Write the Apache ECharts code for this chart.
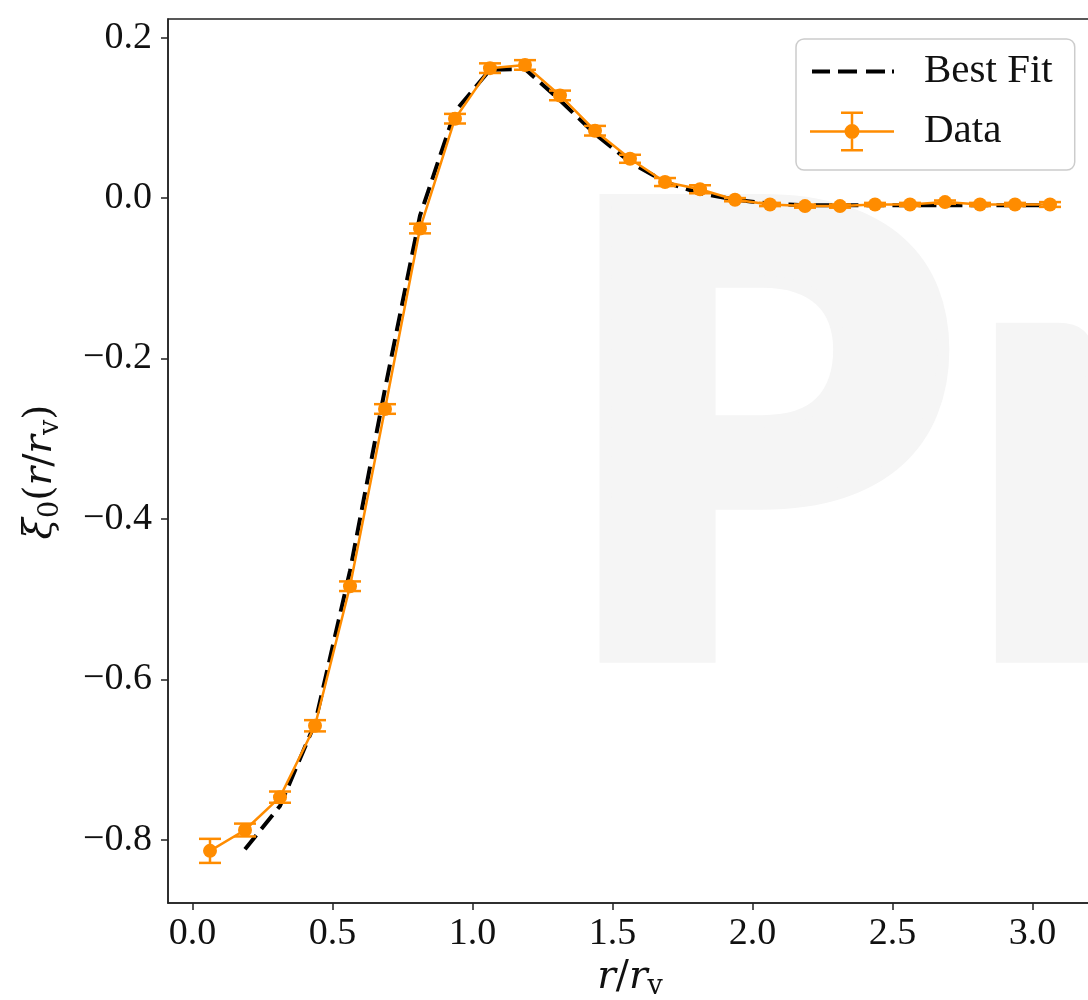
<!DOCTYPE html>
<html><head><meta charset="utf-8">
<script src="https://cdn.jsdelivr.net/npm/echarts@6/dist/echarts.min.js"></script>
<style>html,body{margin:0;padding:0;background:#fff}#chart{width:1088px;height:1000px}</style>
</head><body><div id="chart"></div>
<script>
// ---- data ----
const xData = [0.0625, 0.1875, 0.3125, 0.4375, 0.5625, 0.6875, 0.8125, 0.9375, 1.0625, 1.1875, 1.3125, 1.4375, 1.5625, 1.6875, 1.8125, 1.9375, 2.0625, 2.1875, 2.3125, 2.4375, 2.5625, 2.6875, 2.8125, 2.9375, 3.0625];
const yData = [-0.814, -0.788, -0.747, -0.658, -0.484, -0.263, -0.038, 0.099, 0.162, 0.166, 0.128, 0.084, 0.049, 0.020, 0.011, -0.002, -0.008, -0.010, -0.010, -0.008, -0.008, -0.005, -0.008, -0.008, -0.008];
const yErr = [0.015, 0.008, 0.007, 0.007, 0.006, 0.006, 0.006, 0.006, 0.006, 0.006, 0.006, 0.006, 0.005, 0.005, 0.005, 0.002, 0.002, 0.002, 0.002, 0.002, 0.002, 0.002, 0.002, 0.002, 0.003];
const fitX = [0.1875, 0.3125, 0.4375, 0.5625, 0.6875, 0.8125, 0.9375, 1.0625, 1.1875, 1.3125, 1.4375, 1.5625, 1.6875, 1.8125, 1.9375, 2.0625, 2.1875, 2.3125, 2.4375, 2.5625, 2.6875, 2.8125, 2.9375, 3.0625];
const fitY = [-0.812, -0.758, -0.655, -0.465, -0.238, -0.022, 0.108, 0.160, 0.161, 0.122, 0.080, 0.045, 0.020, 0.006, -0.002, -0.007, -0.009, -0.009, -0.009, -0.009, -0.009, -0.009, -0.009, -0.009];
const xTicks = [0, 0.5, 1, 1.5, 2, 2.5, 3];
const yTicks = [-0.8, -0.6, -0.4, -0.2, 0, 0.2];
const legendNames = ['Best Fit', 'Data'];
const watermarkText = ['P', 'r'];

// ---- styling ----
const SERIF = '"Liberation Serif", "DejaVu Serif", serif';
const MATH = '"DejaVu Serif", "Liberation Serif", serif';
const ORANGE = '#ff8c00';
const INK = '#111';
const fmt = v => (v < -1e-9 ? '\u2212' : '') + Math.abs(v).toFixed(1);

const dashIcon = 'path://M0 0L0.01 0Z M84 40L83.99 40Z ' +
  'M2 18H20V22H2Z M28 18H47V22H28Z M56 18H75V22H56Z M82 18H84V22H82Z';
const dataIcon = 'path://M0 18.75H84V21.25H0Z M40.75 0H43.25V40H40.75Z M31 0H53V2.5H31Z M31 37.5H53V40H31Z ' +
  'M34.5 20A7.5 7.5 0 1 1 49.5 20A7.5 7.5 0 1 1 34.5 20Z';

const mathRich = {
  i: {fontFamily: MATH, fontStyle: 'italic', fontSize: 39, lineHeight: 46, color: INK},
  n: {fontFamily: MATH, fontSize: 39, lineHeight: 46, color: INK},
  s: {fontFamily: MATH, fontSize: 27, lineHeight: 20, verticalAlign: 'bottom', color: INK},
  g: {width: 22, lineHeight: 46}
};
const WM_FONT = '900 613px Lato, "Liberation Sans", sans-serif';
const WM_STYLE = {font: WM_FONT, fill: '#f5f5f5', stroke: '#f5f5f5', lineWidth: 24, lineJoin: 'miter',
                  textVerticalAlign: 'middle', textAlign: 'left'};

const chart = echarts.init(document.getElementById('chart'), null, {renderer: 'canvas'});
const option = {
  animation: false,
  backgroundColor: '#ffffff',
  graphic: [
    {type: 'text', x: 565, y: 453, z: -10, silent: true, style: Object.assign({text: watermarkText[0]}, WM_STYLE)},
    {type: 'text', x: 973, y: 453, z: -10, silent: true, style: Object.assign({text: watermarkText[1]}, WM_STYLE)}
  ],
  grid: {left: 168, top: 19, right: -4, bottom: 97, outerBoundsMode: 'none', containLabel: false,
         show: true, borderColor: '#222', borderWidth: 1.5, backgroundColor: 'transparent'},
  legend: {
    data: [{name: legendNames[0], icon: dashIcon}, {name: legendNames[1], icon: dataIcon}],
    orient: 'vertical', left: 796, top: 39, padding: [12, 22, 18, 14],
    itemWidth: 84, itemHeight: 40, itemGap: 19, symbolKeepAspect: true,
    backgroundColor: 'rgba(255,255,255,0.8)', borderColor: '#cccccc', borderWidth: 1.5, borderRadius: 8,
    formatter: '{a|{name}}',
    textStyle: {fontFamily: SERIF, fontSize: 41, color: INK,
      rich: {a: {fontFamily: SERIF, fontSize: 41, color: INK, padding: [0, 0, 0, 25]}}},
    selectedMode: false
  },
  xAxis: {
    type: 'value', min: -0.0875, max: 3.2125,
    axisLine: {show: true, onZero: false, lineStyle: {color: '#222', width: 1.5}},
    axisTick: {show: true, customValues: xTicks, length: 7, lineStyle: {color: '#222', width: 1.5}},
    axisLabel: {customValues: xTicks, formatter: fmt, margin: 12, fontFamily: SERIF, fontSize: 38, color: INK},
    splitLine: {show: false},
    name: '{i|r}{n|/}{i|r}{s|v}', nameLocation: 'middle', nameGap: 50,
    nameTextStyle: {rich: mathRich}
  },
  yAxis: {
    type: 'value', min: -0.879, max: 0.2233,
    axisLine: {show: true, onZero: false, lineStyle: {color: '#222', width: 1.5}},
    axisTick: {show: true, customValues: yTicks, length: 7, lineStyle: {color: '#222', width: 1.5}},
    axisLabel: {customValues: yTicks, formatter: fmt, margin: 16, fontFamily: SERIF, fontSize: 38, color: INK},
    splitLine: {show: false},
    name: '{i|ξ}{s|0}{n|(}{i|r}{n|/}{i|r}{s|v}{n|)}{g|}', nameLocation: 'middle', nameRotate: 90, nameGap: 104,
    nameTextStyle: {rich: mathRich}
  },
  series: [
    {name: legendNames[0], type: 'line', data: fitX.map((x, i) => [x, fitY[i]]),
     symbol: 'none', lineStyle: {color: '#000', width: 4, type: [18, 8]}, itemStyle: {color: '#000'}, z: 2, silent: true},
    {name: 'Data errors', type: 'custom', z: 3, silent: true,
     data: xData.map((x, i) => [x, yData[i] - yErr[i], yData[i] + yErr[i]]),
     encode: {x: 0, y: [1, 2]},
     renderItem: function (params, api) {
       const x = api.value(0);
       const lo = api.coord([x, api.value(1)]);
       const hi = api.coord([x, api.value(2)]);
       const hw = 11;
       const st = {stroke: ORANGE, lineWidth: 2.5};
       return {type: 'group', children: [
         {type: 'line', shape: {x1: lo[0], y1: lo[1], x2: hi[0], y2: hi[1]}, style: st},
         {type: 'line', shape: {x1: lo[0] - hw, y1: lo[1], x2: lo[0] + hw, y2: lo[1]}, style: st},
         {type: 'line', shape: {x1: hi[0] - hw, y1: hi[1], x2: hi[0] + hw, y2: hi[1]}, style: st}
       ]};
     }},
    {name: legendNames[1], type: 'line', data: xData.map((x, i) => [x, yData[i]]),
     symbol: 'circle', symbolSize: 14, showSymbol: true,
     lineStyle: {color: ORANGE, width: 2.5}, itemStyle: {color: ORANGE}, z: 4, silent: true}
  ]
};
chart.setOption(option);
</script>
</body></html>
